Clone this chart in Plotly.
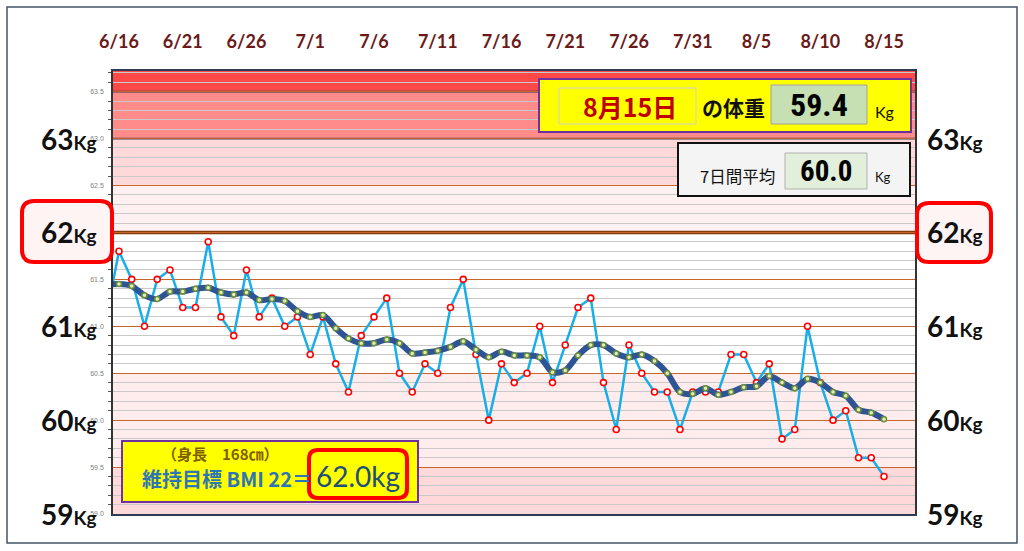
import pandas as pd
import plotly.graph_objects as go

# 日々の体重 (6/15 - 8/15)
fechas = pd.date_range("2023-06-15", "2023-08-15", freq="D")
peso = [61.1, 61.8, 61.5, 61.0, 61.5, 61.6, 61.2, 61.2, 61.9, 61.1, 60.9, 61.6, 61.1, 61.3, 61.0, 61.1,
        60.7, 61.1, 60.6, 60.3, 60.9, 61.1, 61.3, 60.5, 60.3, 60.6, 60.5, 61.2, 61.5, 60.7, 60.0, 60.6,
        60.4, 60.5, 61.0, 60.4, 60.8, 61.2, 61.3, 60.4, 59.9, 60.8, 60.5, 60.3, 60.3, 59.9, 60.3,
        60.3, 60.3, 60.7, 60.7, 60.4, 60.6, 59.8, 59.9, 61.0, 60.4, 60.0, 60.1, 59.6, 59.6, 59.4]
# 7日間平均
media7 = [61.44, 61.45, 61.43, 61.33, 61.29, 61.37, 61.37, 61.40, 61.41, 61.36, 61.34, 61.36, 61.28, 61.29, 61.27, 61.16,
          61.10, 61.12, 60.98, 60.87, 60.82, 60.82, 60.86, 60.82, 60.71, 60.72, 60.74, 60.78, 60.84, 60.75, 60.67, 60.73,
          60.69, 60.69, 60.67, 60.51, 60.53, 60.69, 60.80, 60.80, 60.71, 60.67, 60.70, 60.63, 60.50, 60.30, 60.28,
          60.34, 60.27, 60.30, 60.35, 60.36, 60.47, 60.40, 60.34, 60.44, 60.40, 60.30, 60.26, 60.11, 60.08, 60.01]

etiquetas_kg = [59, 60, 61, 62, 63]
bandas = [(59.0, 59.5, "#FFD9D9"), (59.5, 60.5, "#FFEDED"), (60.5, 62.0, "#FFFFFF"),
          (62.0, 62.5, "#FFF1F1"), (62.5, 63.0, "#FFD9D9"), (63.0, 63.5, "#FF8B8B"), (63.5, 63.72, "#FF4848")]

# zona del grafico en pixeles
L, R, T, B = 113, 915, 71, 514
W, H = 1024, 551


def px(x):
    return (x - L) / (R - L)


def py(y):
    return (B - y) / (B - T)


def caja(x0, y0, x1, y1, fill, line, lw):
    return dict(type="rect", xref="paper", yref="paper", x0=px(x0), x1=px(x1), y0=py(y1), y1=py(y0),
                fillcolor=fill, line=dict(color=line, width=lw), layer="above")


def caja_redonda(x0, y0, x1, y1, r, fill, line, lw):
    rx, ry = r / (R - L), r / (B - T)
    X0, X1, Yt, Yb = px(x0), px(x1), py(y0), py(y1)
    path = (f"M {X0+rx},{Yt} L {X1-rx},{Yt} Q {X1},{Yt} {X1},{Yt-ry} L {X1},{Yb+ry} Q {X1},{Yb} {X1-rx},{Yb} "
            f"L {X0+rx},{Yb} Q {X0},{Yb} {X0},{Yb+ry} L {X0},{Yt-ry} Q {X0},{Yt} {X0+rx},{Yt} Z")
    return dict(type="path", xref="paper", yref="paper", path=path, fillcolor=fill,
                line=dict(color=line, width=lw), layer="above")


def texto(x, y, s, size, color, family="Noto Sans CJK JP", bold=True, xanchor="center"):
    if bold:
        s = "<b>" + s + "</b>"
    return dict(xref="paper", yref="paper", x=px(x), y=py(y), text=s, showarrow=False,
                xanchor=xanchor, yanchor="middle", font=dict(size=size, color=color, family=family))


fig = go.Figure()

fig.add_trace(go.Scatter(x=fechas, y=peso, mode="lines+markers",
                         line=dict(color="#17AEEA", width=2.5),
                         marker=dict(symbol="circle", size=6, color="white", line=dict(color="#FF0000", width=1.6))))
fig.add_trace(go.Scatter(x=fechas, y=media7, mode="lines+markers",
                         line=dict(color="#2F5495", width=6, shape="spline", smoothing=0.8),
                         marker=dict(symbol="circle", size=5, color="#E4EFB8", line=dict(color="#6B8E3A", width=1.5))))

shapes = []
for y0, y1, c in bandas:
    shapes.append(dict(type="rect", xref="paper", yref="y", x0=0, x1=1, y0=y0, y1=y1,
                       fillcolor=c, line=dict(width=0), layer="below"))
shapes.append(dict(type="line", xref="paper", yref="y", x0=0, x1=1, y0=62, y1=62,
                   line=dict(color="#843C0C", width=3.5), layer="between"))
for yv in [63.0, 63.5]:
    shapes.append(dict(type="line", xref="paper", yref="y", x0=0, x1=1, y0=yv, y1=yv,
                       line=dict(color="#2E3B55", width=1.8), layer="between"))

# marco exterior
shapes.append(dict(type="rect", xref="paper", yref="paper", x0=px(7), x1=px(1017), y0=py(543), y1=py(7),
                   line=dict(color="#44546A", width=1.5), layer="above"))

# cajas de 62Kg
shapes.append(caja_redonda(22, 201, 112, 262, 12, "#FFF4F4", "#FF0000", 4))
shapes.append(caja_redonda(917, 203, 991, 262, 12, "#FFF4F4", "#FF0000", 4))

# caja superior: peso del dia
shapes.append(caja(539, 79, 911, 132, "#FFFF00", "#7030A0", 2))
shapes.append(caja(559, 88, 696, 124, "#FFFF00", "#D0D0D0", 1))
shapes.append(caja(771, 85, 867, 124, "#C6E0B4", "#A0A0A0", 1))
# caja 7日間平均
shapes.append(caja(678, 143, 910, 196, "#F4F4F4", "#111111", 2))
shapes.append(caja(785, 153, 867, 189, "#E2EFDA", "#B0B0B0", 1))
# caja BMI
shapes.append(caja(122, 441, 418, 502, "#FFFF00", "#7030A0", 2))
shapes.append(caja_redonda(309, 450, 407, 498, 9, "#FFFF00", "#FF0000", 4))

annotations = []
for kg in etiquetas_kg:
    s = f"<b>{kg}<span style='font-size:19px'>Kg</span></b>"
    annotations.append(dict(xref="paper", yref="y", x=px(99), y=kg, text=s, showarrow=False,
                            xanchor="right", yanchor="middle",
                            font=dict(size=28, color="#111111", family="Lato")))
    annotations.append(dict(xref="paper", yref="y", x=px(925), y=kg, text=s, showarrow=False,
                            xanchor="left", yanchor="middle",
                            font=dict(size=28, color="#111111", family="Lato")))

annotations.append(texto(630, 106, "8月15日", 25, "#C00000"))
annotations.append(texto(733, 107, "の体重", 21, "#111111"))
annotations.append(texto(819, 105, "59.4", 32, "#000000", family="Roboto Condensed, DejaVu Sans Condensed, Roboto"))
annotations.append(texto(884, 111, "Kg", 16, "#111111", family="Lato", bold=False))
annotations.append(texto(737, 176, "7日間平均", 16.5, "#111111", bold=False))
annotations.append(texto(826, 171, "60.0", 29, "#000000", family="Roboto Condensed, DejaVu Sans Condensed, Roboto"))
annotations.append(texto(883, 177, "Kg", 13, "#111111", family="Lato", bold=False))
annotations.append(texto(220, 453, "（身長　168㎝）", 15, "#7F6000"))
annotations.append(texto(227, 478, "維持目標 BMI 22＝", 20, "#2E75B6"))
annotations.append(texto(358, 476, "62.0kg", 28, "#1F4E79", family="Lato", bold=False))

fig.update_layout(
    width=W, height=H,
    margin=dict(l=L, r=W - R, t=T, b=H - B),
    paper_bgcolor="white", plot_bgcolor="white",
    showlegend=False,
    shapes=shapes, annotations=annotations,
)
fig.update_xaxes(
    type="date", side="top",
    range=["2023-06-15 12:45", "2023-08-17 10:20"],
    tick0="2023-06-16", dtick=5 * 86400000, tickformat="%-m/%-d",
    tickfont=dict(size=18, color="#6B1A1A", family="Lato", weight="bold"),
    ticks="", ticklabelstandoff=14,
    showgrid=False, showline=True, linecolor="#2E3B55", linewidth=1.5, mirror=True,
    zeroline=False,
)
fig.update_yaxes(
    range=[59, 63.72], tick0=59, dtick=0.5, tickformat=".1f",
    tickfont=dict(size=7, color="#7F7F7F", family="Liberation Sans"),
    ticks="", ticklabelstandoff=6,
    showgrid=True, gridcolor="#C8652A", gridwidth=1.3,
    minor=dict(dtick=0.1, showgrid=True, gridcolor="#C9C9C9", gridwidth=1, ticks="outside", ticklen=3, tickcolor="#555555"),
    showline=True, linecolor="#333333", linewidth=1.5, mirror=True,
    zeroline=False,
)

fig.write_html("out.html", config={"displayModeBar": False},
               post_script="document.body.style.margin='0';")
